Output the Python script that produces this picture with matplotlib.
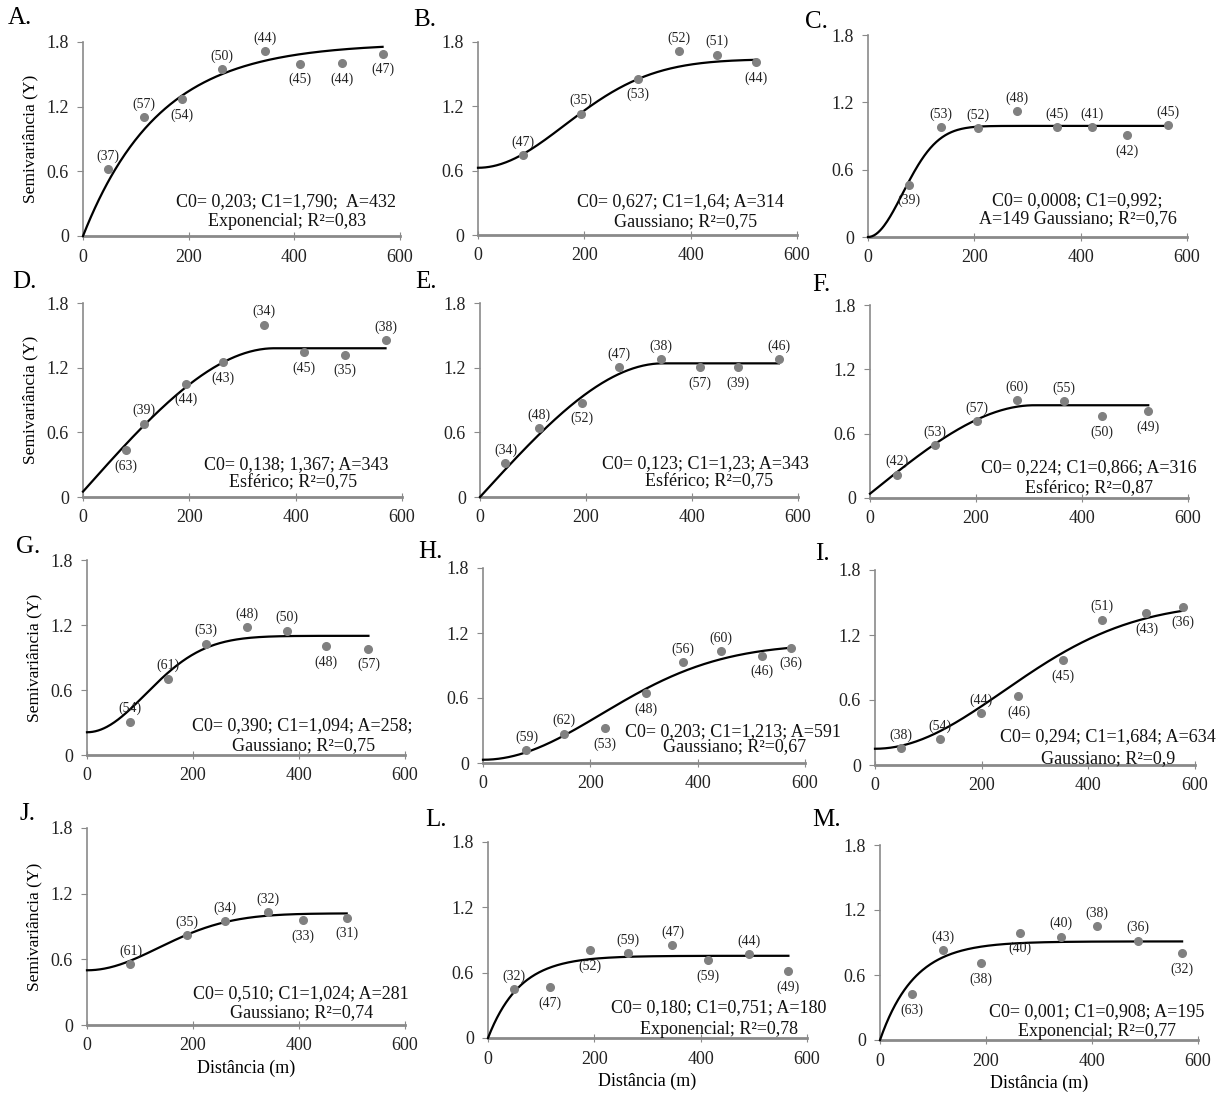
import numpy as np
import matplotlib
matplotlib.use("Agg")
import matplotlib.pyplot as plt

plt.rcParams['font.family'] = ['Liberation Serif', 'DejaVu Serif']

# lag distance (m), semivariance, number of pairs for each panel
a_dist = [47, 115, 187, 263, 345, 410, 490, 567]
a_gam = [0.62, 1.105, 1.27, 1.547, 1.717, 1.60, 1.605, 1.692]
a_pairs = [37, 57, 54, 50, 44, 45, 44, 47]

b_dist = [84, 193, 300, 378, 450, 523]
b_gam = [0.745, 1.133, 1.459, 1.713, 1.682, 1.614]
b_pairs = [47, 35, 53, 52, 51, 44]

c_dist = [77, 138, 207, 280, 355, 422, 487, 565]
c_gam = [0.467, 0.982, 0.967, 1.12, 0.982, 0.982, 0.907, 0.994]
c_pairs = [39, 53, 52, 48, 45, 41, 42, 45]

d_dist = [80, 114, 193, 263, 341, 415, 493, 569]
d_gam = [0.433, 0.68, 1.052, 1.253, 1.599, 1.342, 1.32, 1.454]
d_pairs = [63, 39, 44, 43, 34, 45, 35, 38]

e_dist = [48, 112, 192, 263, 342, 415, 487, 564]
e_gam = [0.314, 0.638, 0.875, 1.202, 1.279, 1.202, 1.202, 1.276]
e_pairs = [34, 48, 52, 47, 38, 57, 39, 46]

f_dist = [50, 122, 201, 278, 366, 438, 525]
f_gam = [0.217, 0.49, 0.714, 0.916, 0.90, 0.767, 0.807]
f_pairs = [42, 53, 57, 60, 55, 50, 49]

g_dist = [81, 153, 225, 302, 378, 451, 531]
g_gam = [0.307, 0.705, 1.027, 1.18, 1.147, 1.006, 0.981]
g_pairs = [54, 61, 53, 48, 50, 48, 57]

h_dist = [81, 151, 228, 303, 373, 443, 519, 573]
h_gam = [0.117, 0.27, 0.322, 0.644, 0.929, 1.036, 0.99, 1.064]
h_pairs = [59, 62, 53, 48, 56, 60, 46, 36]

i_dist = [48, 122, 198, 269, 353, 425, 509, 577]
i_gam = [0.159, 0.236, 0.481, 0.638, 0.966, 1.343, 1.404, 1.463]
i_pairs = [38, 54, 44, 46, 45, 51, 43, 36]

j_dist = [82, 188, 260, 342, 407, 490]
j_gam = [0.558, 0.824, 0.952, 1.031, 0.955, 0.982]
j_pairs = [61, 35, 34, 32, 33, 31]

l_dist = [48, 116, 192, 264, 347, 413, 490, 565]
l_gam = [0.448, 0.467, 0.808, 0.778, 0.854, 0.717, 0.769, 0.616]
l_pairs = [32, 47, 52, 59, 47, 59, 44, 49]

m_dist = [61, 118, 190, 264, 342, 410, 487, 570]
m_gam = [0.425, 0.831, 0.708, 0.991, 0.954, 1.052, 0.917, 0.80]
m_pairs = [63, 43, 38, 40, 40, 38, 36, 32]

# fitted model drawn in each panel: type, nugget, sill, range
a_model = ('exp', 0.0, 1.79, 432)
b_model = ('gau', 0.627, 1.64, 400)
c_model = ('gau', 0.0, 0.99, 160)
d_model = ('sph', 0.05, 1.38, 360)
e_model = ('sph', 0.0, 1.24, 345)
f_model = ('sph', 0.04, 0.865, 310)
g_model = ('gau', 0.21, 1.10, 270)
h_model = ('gau', 0.03, 1.10, 540)
i_model = ('gau', 0.15, 1.50, 590)
j_model = ('gau', 0.50, 1.02, 330)
l_model = ('exp', 0.0, 0.755, 180)
m_model = ('exp', 0.0, 0.91, 195)

a_text = ['C0= 0,203; C1=1,790;  A=432', 'Exponencial; R²=0,83']
b_text = ['C0= 0,627; C1=1,64; A=314', 'Gaussiano; R²=0,75']
c_text = ['C0= 0,0008; C1=0,992;', 'A=149 Gaussiano; R²=0,76']
d_text = ['C0= 0,138; 1,367; A=343', 'Esférico; R²=0,75']
e_text = ['C0= 0,123; C1=1,23; A=343', 'Esférico; R²=0,75']
f_text = ['C0= 0,224; C1=0,866; A=316', 'Esférico; R²=0,87']
g_text = ['C0= 0,390; C1=1,094; A=258;', 'Gaussiano; R²=0,75']
h_text = ['C0= 0,203; C1=1,213; A=591', 'Gaussiano; R²=0,67']
i_text = ['C0= 0,294; C1=1,684; A=634', 'Gaussiano; R²=0,9']
j_text = ['C0= 0,510; C1=1,024; A=281', 'Gaussiano; R²=0,74']
l_text = ['C0= 0,180; C1=0,751; A=180', 'Exponencial; R²=0,78']
m_text = ['C0= 0,001; C1=0,908; A=195', 'Exponencial; R²=0,77']

letters = ['A.', 'B.', 'C.', 'D.', 'E.', 'F.', 'G.', 'H.', 'I.', 'J.', 'L.', 'M.']

# --- layout (pixels) ---
W, H = 1228, 1097
# axes box: x0, x1, ytop, ybottom
boxes = [(83, 400, 42, 236), (478, 797, 42, 235), (868, 1187, 35, 237),
         (83, 402, 303, 497), (480, 798, 303, 497), (870, 1188, 305, 498),
         (87, 405, 560, 755), (483, 805, 568, 763), (875, 1195, 570, 765),
         (87, 405, 828, 1025), (488, 807, 842, 1038), (880, 1198, 845, 1040)]
letter_pos = [(8, 7), (413, 9), (805, 11), (12, 271), (415, 271), (812, 274),
              (16, 536), (418, 541), (815, 543), (20, 803), (425, 809), (812, 809)]
# label above (u) or below (d) the point
a_lab = 'uuduuddd'
b_lab = 'uuduud'
c_lab = 'duuuuudu'
d_lab = 'duddudd' + 'u'
e_lab = 'uuduuddu'
f_lab = 'uuuuudd'
g_lab = 'uuuuudd'
h_lab = 'uudduudd'
i_lab = 'uuuddudd'
j_lab = 'uuuudd'
l_lab = 'udduudud'
m_lab = 'dudduuud'
# centre of annotation lines in data coords
text_pos = [[(384, 0.318), (387, 0.133)], [(381, 0.31), (391, 0.124)],
            [(394, 0.327), (394, 0.164)], [(402, 0.30), (395, 0.136)],
            [(425, 0.314), (433, 0.145)], [(413, 0.28), (413, 0.084)],
            [(406, 0.276), (408, 0.086)], [(466, 0.29), (468, 0.153)],
            [(437, 0.26), (437, 0.061)], [(403, 0.29), (405, 0.113)],
            [(434, 0.275), (434, 0.076)], [(409, 0.262), (409, 0.077)]]

panels = [
    (a_dist, a_gam, a_pairs, a_model, a_text, a_lab),
    (b_dist, b_gam, b_pairs, b_model, b_text, b_lab),
    (c_dist, c_gam, c_pairs, c_model, c_text, c_lab),
    (d_dist, d_gam, d_pairs, d_model, d_text, d_lab),
    (e_dist, e_gam, e_pairs, e_model, e_text, e_lab),
    (f_dist, f_gam, f_pairs, f_model, f_text, f_lab),
    (g_dist, g_gam, g_pairs, g_model, g_text, g_lab),
    (h_dist, h_gam, h_pairs, h_model, h_text, h_lab),
    (i_dist, i_gam, i_pairs, i_model, i_text, i_lab),
    (j_dist, j_gam, j_pairs, j_model, j_text, j_lab),
    (l_dist, l_gam, l_pairs, l_model, l_text, l_lab),
    (m_dist, m_gam, m_pairs, m_model, m_text, m_lab),
]


def variogram(kind, c0, sill, a, h):
    if kind == 'exp':
        f = 1 - np.exp(-3 * h / a)
    elif kind == 'gau':
        f = 1 - np.exp(-3 * h ** 2 / a ** 2)
    else:
        r = np.minimum(h / a, 1.0)
        f = 1.5 * r - 0.5 * r ** 3
    return c0 + (sill - c0) * f


fig = plt.figure(figsize=(W / 100, H / 100), dpi=100)
axis_grey = '#8a8a8a'

for k, (dist, gam, pairs, mdl, txt, lab) in enumerate(panels):
    x0, x1, yt, yb = boxes[k]
    ax = fig.add_axes([x0 / W, 1 - yb / H, (x1 - x0) / W, (yb - yt) / H])

    hh = np.linspace(0, max(dist), 300)
    ax.plot(hh, variogram(*mdl, hh), color='black', lw=1.6, zorder=3,
            clip_on=False)
    ax.plot(dist, gam, 'o', color='#808080', ms=5.5, zorder=4, clip_on=False)

    for x, y, n, pos in zip(dist, gam, pairs, lab):
        dy = 13 if pos == 'u' else -16
        ax.annotate(f'({n})', (x, y), xytext=(0, dy),
                    textcoords='offset pixels', ha='center', va='center',
                    fontsize=10, color='#222222')

    for (tx, ty), line in zip(text_pos[k], txt):
        ax.text(tx, ty, line, ha='center', va='center', fontsize=13,
                color='#111111', clip_on=False)

    ax.set_xlim(0, 600)
    ax.set_ylim(0, 1.8)
    ax.set_xticks([0, 200, 400, 600])
    ax.set_yticks([0, 0.6, 1.2, 1.8])
    ax.set_yticklabels(['0', '0.6', '1.2', '1.8'])
    for side in ['top', 'right']:
        ax.spines[side].set_visible(False)
    for side in ['left', 'bottom']:
        ax.spines[side].set_color(axis_grey)
    ax.spines['left'].set_linewidth(1.2)
    ax.spines['bottom'].set_linewidth(2.0)
    ax.tick_params(axis='y', direction='out', length=4, color=axis_grey,
                   labelsize=13, labelcolor='#222222', pad=6)
    ax.tick_params(axis='x', direction='inout', length=6, color=axis_grey,
                   labelsize=13, labelcolor='#222222', pad=6)
    ax.patch.set_alpha(0)

    if k % 3 == 0:
        ax.set_ylabel('Semivariância (Y)', fontsize=12.5, labelpad=6)
    if k >= 9:
        ax.set_xlabel('Distância (m)', fontsize=13, labelpad=4)

    lx, ly = letter_pos[k]
    fig.text(lx / W, 1 - ly / H, letters[k], fontsize=18, va='top', ha='left')

fig.savefig('out.png', dpi=100)
